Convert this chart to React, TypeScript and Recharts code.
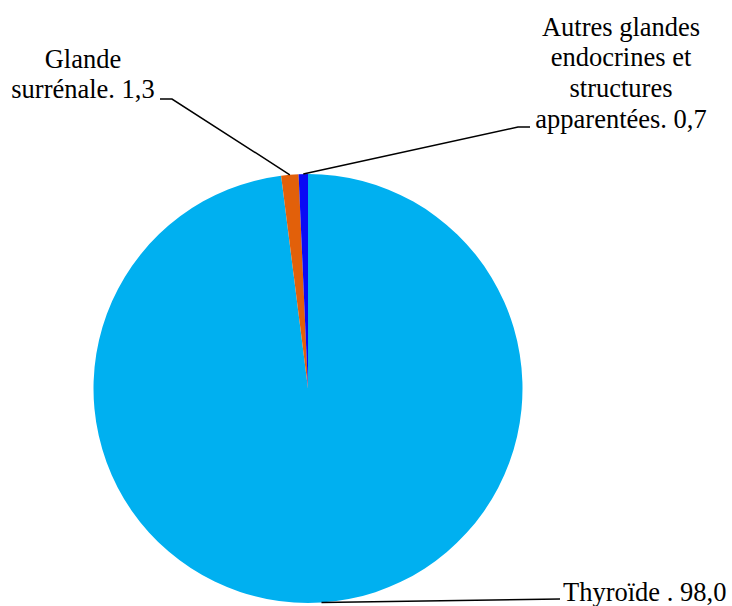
import React from 'react';
import { PieChart, Pie, Cell } from 'recharts';

const categories = ['Thyroïde', 'Glande surrénale', 'Autres glandes endocrines et structures apparentées'];
const values = [98.0, 1.3, 0.7];
const valueLabels = ['98,0', '1,3', '0,7'];
const colors = ['#00B0F0', '#E2600A', '#0A0AF5'];

// label text lines (wrapped as in the reference)
const labelLines: string[][] = [
  ['Thyroïde . 98,0'],
  ['Glande', 'surrénale. 1,3'],
  ['Autres glandes', 'endocrines et', 'structures', 'apparentées. 0,7'],
];

// layout of leader lines / label text (style only)
const labelLayout = [
  { elbow: [560, 599], end: [560, 599], textX: 563, anchor: 'start', baselines: [601] },
  { elbow: [172, 99], end: [160, 99], textX: 83, anchor: 'middle', baselines: [68, 98] },
  { elbow: [518, 127], end: [530, 127], textX: 621, anchor: 'middle', baselines: [36, 66, 97, 128] },
];

const data = categories.map((c, i) => ({ name: c, value: values[i], label: valueLabels[i] }));

const RADIAN = Math.PI / 180;

const renderLabel = (props: any) => {
  const { cx, cy, midAngle, outerRadius, index } = props;
  const sx = cx + outerRadius * Math.cos(-midAngle * RADIAN);
  const sy = cy + outerRadius * Math.sin(-midAngle * RADIAN);
  const L = labelLayout[index];
  const lines = labelLines[index];
  return (
    <g key={`lbl-${index}`}>
      <polyline
        points={`${sx},${sy} ${L.elbow[0]},${L.elbow[1]} ${L.end[0]},${L.end[1]}`}
        fill="none"
        stroke="#000"
        strokeWidth={1.5}
      />
      {lines.map((t, j) => (
        <text
          key={j}
          x={L.textX}
          y={L.baselines[j]}
          textAnchor={L.anchor as any}
          fontFamily="Liberation Serif"
          style={{ fontFamily: 'Liberation Serif', fontSize: 26.5 }}
          fill="#000"
        >
          {t}
        </text>
      ))}
    </g>
  );
};

export default function App() {
  return (
    <div style={{ position: 'absolute', left: 0, top: 0, width: 732, height: 606, background: '#fff' }}>
      <PieChart width={732} height={606} margin={{ top: 0, right: 0, bottom: 0, left: 0 }}>
        <Pie
          data={data}
          dataKey="value"
          nameKey="name"
          cx={308}
          cy={388.5}
          outerRadius={214.5}
          startAngle={90}
          endAngle={-270}
          stroke="none"
          isAnimationActive={false}
          labelLine={false}
          label={renderLabel}
        >
          {data.map((d, i) => (
            <Cell key={d.name} fill={colors[i]} />
          ))}
        </Pie>
      </PieChart>
    </div>
  );
}
